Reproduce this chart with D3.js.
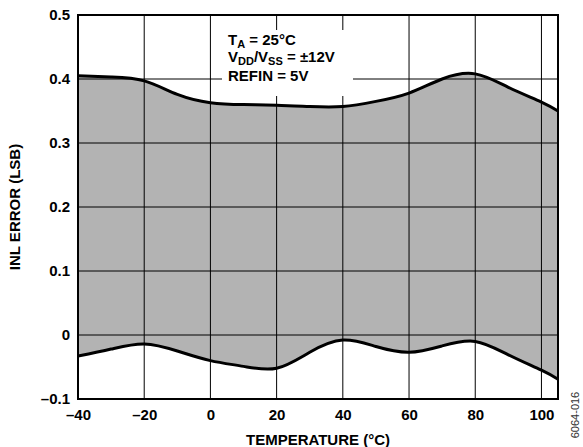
<!DOCTYPE html>
<html><head><meta charset="utf-8">
<script src="https://cdn.jsdelivr.net/npm/d3@7"></script>
<style>body{margin:0;background:#fff}svg{display:block;font-family:"Liberation Sans",Arial,sans-serif}</style>
</head><body><svg id="c" width="583" height="447"></svg>
<script>
const temps = [-40,-30,-20,-10,0,10,20,30,40,50,60,70,80,90,100,105];
const upper = [0.405,0.403,0.397,0.376,0.363,0.360,0.359,0.357,0.357,0.365,0.378,0.400,0.408,0.387,0.364,0.350];
const lower = [-0.033,-0.022,-0.014,-0.025,-0.040,-0.049,-0.052,-0.027,-0.008,-0.018,-0.027,-0.017,-0.010,-0.031,-0.055,-0.069];
const xTicks = [-40,-20,0,20,40,60,80,100];
const yTicks = [-0.1,0,0.1,0.2,0.3,0.4,0.5];
const annot = ["T|A| = 25°C","V|DD|/V|SS| = ±12V","REFIN = 5V"];

const svg = d3.select("#c");
const L=78,R=558,T=15,B=399;
const x = d3.scaleLinear().domain([-40,105]).range([L,R]);
const y = d3.scaleLinear().domain([-0.1,0.5]).range([B,T]);
const data = temps.map((t,i)=>({t,u:upper[i],l:lower[i]}));
const curve = d3.curveNatural;

svg.append("path").datum(data)
  .attr("d", d3.area().x(d=>x(d.t)).y0(d=>y(d.l)).y1(d=>y(d.u)).curve(curve))
  .attr("fill","#b3b3b3");

// grid
const g = svg.append("g").attr("stroke","#000").attr("stroke-width",1);
xTicks.forEach(t=>{ if(t>-40) g.append("line").attr("x1",x(t)).attr("x2",x(t)).attr("y1",T).attr("y2",B); });
yTicks.forEach(v=>{ if(v>-0.1 && v<0.5) g.append("line").attr("x1",L).attr("x2",R).attr("y1",y(v)).attr("y2",y(v)); });

// annotation box
svg.append("rect").attr("x",222).attr("y",30).attr("width",131).attr("height",66).attr("fill","#fff");
const at = svg.append("g").attr("font-weight","bold").attr("font-size",15);
annot.forEach((s,i)=>{
  const txt = at.append("text").attr("x",228).attr("y",[45,62,81][i]);
  s.split("|").forEach((p,j)=>{
    const sp = txt.append("tspan").text(p);
    if(j%2===1){ sp.attr("font-size",11).attr("dy",3); }
    else if(j>0){ sp.attr("dy",-3); }
  });
});

// curves
const line = (k)=>d3.line().x(d=>x(d.t)).y(d=>y(d[k])).curve(curve);
svg.append("path").datum(data).attr("d",line("u")).attr("fill","none").attr("stroke","#000").attr("stroke-width",3);
svg.append("path").datum(data).attr("d",line("l")).attr("fill","none").attr("stroke","#000").attr("stroke-width",3);

// frame
svg.append("rect").attr("x",L).attr("y",T).attr("width",R-L).attr("height",B-T).attr("fill","none").attr("stroke","#000").attr("stroke-width",2);

// axes
const xa = svg.append("g").attr("transform",`translate(0,${B})`).call(d3.axisBottom(x).tickValues(xTicks).tickSize(0).tickPadding(10).tickFormat(d=>d<0?"\u2013"+Math.abs(d):d));
const ya = svg.append("g").attr("transform",`translate(${L},0)`).call(d3.axisLeft(y).tickValues(yTicks).tickSize(0).tickPadding(8).tickFormat(d=>d===0?"0":(d<0?"\u2013"+Math.abs(d).toFixed(1):d.toFixed(1))));
[xa,ya].forEach(a=>{a.select(".domain").remove(); a.selectAll("text").attr("font-size",15).attr("font-weight","bold").attr("fill","#000").attr("font-family","Liberation Sans, Arial, sans-serif");});

svg.append("text").attr("x",(L+R)/2).attr("y",445).attr("text-anchor","middle").attr("font-weight","bold").attr("font-size",15).text("TEMPERATURE (°C)");
svg.append("text").attr("transform",`translate(20,${(T+B)/2}) rotate(-90)`).attr("text-anchor","middle").attr("font-weight","bold").attr("font-size",15).text("INL ERROR (LSB)");
svg.append("text").attr("transform",`translate(579,415) rotate(-90)`).attr("text-anchor","middle").attr("font-size",11).attr("fill","#333").text("6064-016");
</script></body></html>
